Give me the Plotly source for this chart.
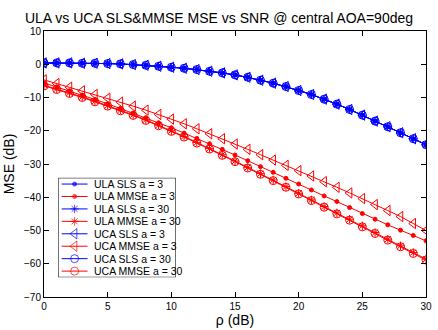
import plotly.graph_objects as go

# ---------------- data ----------------
rho_db = list(range(0, 31))

sls_ula_a3 = [0.4, 0.4, 0.4, 0.3, 0.3, 0.2, 0.1, -0.1, -0.3, -0.6, -0.9, -1.2, -1.6, -2.1, -2.6,
              -3.2, -3.9, -4.8, -5.7, -6.7, -7.9, -9.1, -10.5, -12.0, -13.6, -15.3, -17.1,
              -18.8, -20.6, -22.4, -24.2]
sls_ula_a30 = list(sls_ula_a3)
sls_uca_a3 = list(sls_ula_a3)
sls_uca_a30 = list(sls_ula_a3)

mmse_ula_a3 = [-5.6, -6.8, -8.0, -9.3, -10.6, -11.9, -13.3, -14.7, -16.1, -17.6, -19.1, -20.7,
               -22.3, -23.9, -25.6, -27.3, -29.0, -30.8, -32.5, -34.3, -36.0, -37.8, -39.6,
               -41.3, -43.1, -44.9, -46.6, -48.3, -49.9, -51.5, -53.1]
mmse_uca_a3 = [-4.7, -5.8, -6.9, -8.0, -9.1, -10.2, -11.4, -12.6, -13.8, -15.1, -16.5, -17.9,
               -19.4, -20.9, -22.4, -24.0, -25.6, -27.2, -28.8, -30.4, -32.0, -33.6, -35.3,
               -37.0, -38.7, -40.4, -42.2, -44.0, -45.8, -47.9, -50.0]
mmse_uca_a30 = [-6.5, -7.6, -8.8, -10.0, -11.3, -12.6, -14.0, -15.4, -16.9, -18.5, -20.2, -21.9,
                -23.7, -25.5, -27.4, -29.3, -31.2, -33.1, -35.0, -37.0, -39.0, -41.0, -43.0,
                -45.0, -46.9, -48.9, -50.9, -52.9, -54.9, -56.9, -58.9]
mmse_ula_a30 = [-6.3, -7.4, -8.6, -9.8, -11.1, -12.4, -13.8, -15.2, -16.7, -18.3, -20.0, -21.7,
                -23.5, -25.3, -27.2, -29.1, -31.0, -32.9, -34.8, -36.8, -38.8, -40.8, -42.8,
                -44.7, -46.6, -48.6, -50.6, -52.6, -54.6, -56.6, -58.6]

legend_labels = ["ULA SLS a = 3", "ULA MMSE a = 3", "ULA SLS a = 30", "ULA MMSE a = 30",
                 "UCA SLS a = 3", "UCA MMSE a = 3", "UCA SLS a = 30", "UCA MMSE a = 30"]

x_ticks = [0, 5, 10, 15, 20, 25, 30]
y_ticks = [10, 0, -10, -20, -30, -40, -50, -60, -70]

BLUE = "rgb(0,0,255)"
RED = "rgb(255,0,0)"
FONT = "Liberation Sans, Arial"

series = [
    (sls_ula_a3, BLUE, "circle", 4),
    (mmse_ula_a3, RED, "circle", 4),
    (sls_ula_a30, BLUE, "asterisk-open", 7),
    (mmse_ula_a30, RED, "asterisk-open", 7),
    (sls_uca_a3, BLUE, "triangle-left-open", 9),
    (mmse_uca_a3, RED, "triangle-left-open", 9),
    (sls_uca_a30, BLUE, "circle-open", 8),
    (mmse_uca_a30, RED, "circle-open", 8),
]

fig = go.Figure()
for (vals, col, sym, sz), name in zip(series, legend_labels):
    fig.add_trace(go.Scatter(
        x=rho_db, y=vals, mode="lines+markers", name=name, showlegend=False,
        line=dict(color=col, width=1),
        marker=dict(symbol=sym, size=sz, color=col, line=dict(color=col, width=1)),
        xaxis="x", yaxis="y"))

# ---- custom MATLAB-style legend drawn on an inset subplot ----
n = len(legend_labels)
# opaque white box with black border
fig.add_trace(go.Scatter(
    x=[0, 1, 1, 0, 0], y=[0, 0, n, n, 0], mode="lines", fill="toself",
    fillcolor="white", line=dict(color="black", width=1), showlegend=False,
    hoverinfo="skip", xaxis="x2", yaxis="y2"))
for i, ((vals, col, sym, sz), name) in enumerate(zip(series, legend_labels)):
    yy = n - 0.5 - i
    fig.add_trace(go.Scatter(
        x=[0.03, 0.14, 0.25], y=[yy, yy, yy], mode="lines+markers", showlegend=False,
        line=dict(color=col, width=1),
        marker=dict(symbol=sym, size=[0, sz, 0], color=col, line=dict(color=col, width=1)),
        xaxis="x2", yaxis="y2", hoverinfo="skip"))
    fig.add_annotation(x=0.29, y=yy, xref="x2", yref="y2", text=name, showarrow=False,
                       xanchor="left", yanchor="middle",
                       font=dict(family=FONT, size=10.5, color="black"))

axis_common = dict(showline=True, linecolor="black", linewidth=1, mirror="ticks",
                   ticks="inside", ticklen=5, tickcolor="black", showgrid=False,
                   zeroline=False,
                   tickfont=dict(family=FONT, size=10, color="black"))

fig.update_layout(
    width=438, height=330,
    margin=dict(l=44, r=6, t=31, b=32),
    paper_bgcolor="white", plot_bgcolor="white",
    title=dict(text="ULA vs UCA SLS&MMSE MSE vs SNR @ central AOA=90deg",
               x=0.5, xanchor="center", y=0.945, yanchor="middle",
               font=dict(family=FONT, size=14, color="black")),
    xaxis=dict(range=[0, 30], tickvals=x_ticks, domain=[0, 1],
               title=dict(text="ρ (dB)", standoff=2,
                          font=dict(family=FONT, size=14, color="black")),
               **axis_common),
    yaxis=dict(range=[-70, 10], tickvals=y_ticks, domain=[0, 1],
               title=dict(text="MSE (dB)", standoff=6,
                          font=dict(family=FONT, size=14, color="black")),
               **axis_common),
    xaxis2=dict(domain=[0.037, 0.345], range=[0, 1], visible=False, anchor="y2", fixedrange=True),
    yaxis2=dict(domain=[0.074, 0.448], range=[0, n], visible=False, anchor="x2", fixedrange=True),
    showlegend=False,
)

fig.write_html("out.html")
